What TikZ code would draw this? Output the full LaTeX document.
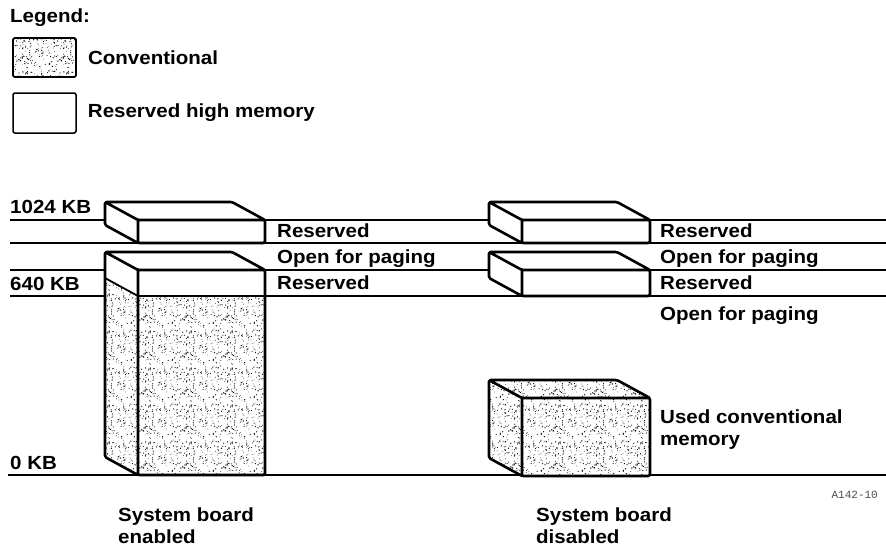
\documentclass[tikz,border=0pt]{standalone}
\usepackage{fontspec}
\setmainfont{Liberation Sans}[FakeStretch=1.08]
\newfontfamily\idfont{Liberation Mono}
\usetikzlibrary{positioning}
\usetikzlibrary{patterns}

\pgfdeclarepatternformonly{speckle}{\pgfpointorigin}{\pgfpoint{41pt}{37pt}}{\pgfpoint{41pt}{37pt}}{%
  \pgfmathsetseed{11}%
  \foreach \k in {1,...,150}{%
    \pgfmathsetmacro{\px}{rnd*41}%
    \pgfmathsetmacro{\py}{rnd*37}%
    \pgfmathsetmacro{\pr}{0.3+rnd*0.45}%
    \pgfpathcircle{\pgfpoint{\px pt}{\py pt}}{\pr pt}%
    \pgfusepath{fill}%
  }%
}

\tikzset{
  rule/.style={line width=1.3pt},
  memedge/.style={line width=2.6pt, line join=round, rounded corners=1.5pt},
  stipple/.style={pattern=speckle, pattern color=black},
  lbl/.style={inner sep=0pt, anchor=base west, align=left,
    font=\bfseries\fontsize{19}{22}\selectfont},
  legbox/.style={draw, line width=1.8pt, rounded corners=2pt, inner sep=0pt,
    minimum width=63pt, minimum height=39pt},
}

\begin{document}
\begin{tikzpicture}[x=1pt, y=-1pt]
        \useasboundingbox (0,0) rectangle (886,546);

        \node[lbl] (legTitle) at (10,23) {Legend:};
        \node[legbox, preaction={fill=white}, stipple] (legConv) at (44.5,57.5) {};
        \node[legbox, line width=1.5pt, minimum height=40pt] (legRes) at (44.5,113) {};
        \node[lbl, anchor=west, right=11pt of legConv] (legConvText) {Conventional};
        \node[lbl, anchor=west, right=11pt of legRes] (legResText) {Reserved high memory};

        \draw[rule] (10,220) -- (886,220);
        \draw[rule] (10,243) -- (886,243);
        \draw[rule] (10,270) -- (886,270);
        \draw[rule] (10,296) -- (886,296);
        \draw[rule] (8,475) -- (886,475);

        \fill[white] (105,202) -- (232,202) -- (265,220) -- (265,243) -- (138,243) -- (105,225) -- cycle;
        \draw[memedge] (105,202) -- (232,202) -- (265,220) -- (265,243) -- (138,243) -- (105,225) -- cycle
          (105,202) -- (138,220) -- (265,220) (138,220) -- (138,243);

        \fill[white] (105,252) -- (232,252) -- (265,270) -- (265,475) -- (138,475) -- (105,457) -- cycle;
        \fill[stipple] (105,278) -- (138,296) -- (265,296) -- (265,475) -- (138,475) -- (105,457) -- cycle;
        \draw[memedge] (105,252) -- (232,252) -- (265,270) -- (265,475) -- (138,475) -- (105,457) -- cycle
          (105,252) -- (138,270) -- (265,270) (138,270) -- (138,475);
        \draw[line width=1.8pt] (105,278) -- (138,296) -- (265,296);

        \fill[white] (489,202) -- (617,202) -- (650,220) -- (650,243) -- (522,243) -- (489,225) -- cycle;
        \draw[memedge] (489,202) -- (617,202) -- (650,220) -- (650,243) -- (522,243) -- (489,225) -- cycle
          (489,202) -- (522,220) -- (650,220) (522,220) -- (522,243);

        \fill[white] (489,252) -- (617,252) -- (650,270) -- (650,296) -- (522,296) -- (489,278) -- cycle;
        \draw[memedge] (489,252) -- (617,252) -- (650,270) -- (650,296) -- (522,296) -- (489,278) -- cycle
          (489,252) -- (522,270) -- (650,270) (522,270) -- (522,296);

        \fill[white] (489,380) -- (617,380) -- (650,398) -- (650,476) -- (522,476) -- (489,458) -- cycle;
        \fill[stipple] (489,380) -- (617,380) -- (650,398) -- (650,476) -- (522,476) -- (489,458) -- cycle;
        \draw[memedge] (489,380) -- (617,380) -- (650,398) -- (650,476) -- (522,476) -- (489,458) -- cycle
          (489,380) -- (522,398) -- (650,398) (522,398) -- (522,476);

        \node[lbl] (kb1024) at (10,213) {1024 KB};
        \node[lbl] (kb640) at (10,290) {640 KB};
        \node[lbl] (kb0) at (10,469) {0 KB};

        \node[lbl] (resHiOn) at (277,237) {Reserved};
        \node[lbl] (openOn) at (277,263) {Open for paging};
        \node[lbl] (resLoOn) at (277,289) {Reserved};

        \node[lbl] (resHiOff) at (660,237) {Reserved};
        \node[lbl] (openHiOff) at (660,263) {Open for paging};
        \node[lbl] (resLoOff) at (660,289) {Reserved};
        \node[lbl] (openLoOff) at (660,320) {Open for paging};
        \node[lbl] (usedOff) at (660,445) {Used conventional\\memory};

        \node[inner sep=0pt, anchor=base east, text=black!70, font=\idfont\fontsize{11}{13}\selectfont] (figId) at (878,498) {A142-10};

        \node[lbl] (boardOn) at (118,543) {System board\\enabled};
        \node[lbl] (boardOff) at (536,543) {System board\\disabled};
\end{tikzpicture}
\end{document}
